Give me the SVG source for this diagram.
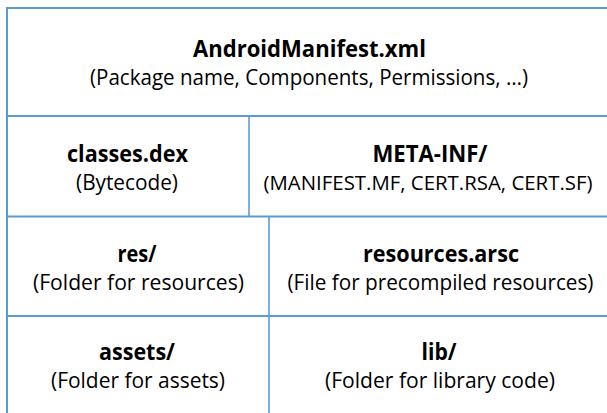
<svg xmlns="http://www.w3.org/2000/svg" width="607" height="413" viewBox="0 0 607 413">
  <style>
    .ln { stroke: #5b9bd5; stroke-width: 2; fill: none; }
    .lv { stroke: #5b9bd5; stroke-width: 1.6; fill: none; }
    text { font-family: "Open Sans", "Noto Sans", sans-serif; font-size: 22.5px; fill: #000; text-anchor: middle; }
    .t { font-weight: bold; font-size: 23px; }
    .n { font-size: 21.6px; }
    .m { font-size: 20.4px; }
  </style>
  <rect width="607" height="413" fill="#fff"/>
  <g id="grid">
    <line class="ln" x1="7" y1="8" x2="607" y2="8"/>
    <line class="ln" x1="7" y1="7" x2="7" y2="413"/>
    <line class="ln" x1="7" y1="116" x2="607" y2="116"/>
    <line class="ln" x1="7" y1="216.5" x2="607" y2="216.5"/>
    <line class="ln" x1="7" y1="316" x2="607" y2="316"/>
    <line class="lv" x1="249" y1="116" x2="249" y2="216.5"/>
    <line class="lv" x1="269" y1="216.5" x2="269" y2="413"/>
  </g>
  <g id="manifest">
    <text class="t" x="309.5" y="57" textLength="233" lengthAdjust="spacingAndGlyphs">AndroidManifest.xml</text>
    <text x="309" y="85" textLength="438" lengthAdjust="spacingAndGlyphs">(Package name, Components, Permissions, …)</text>
  </g>
  <g id="classes">
    <text class="t" x="127.5" y="162" textLength="121" lengthAdjust="spacingAndGlyphs">classes.dex</text>
    <text x="127" y="190" textLength="102" lengthAdjust="spacingAndGlyphs">(Bytecode)</text>
  </g>
  <g id="metainf">
    <text class="t" x="430" y="162" textLength="115" lengthAdjust="spacingAndGlyphs">META-INF/</text>
    <text class="m" x="428" y="190" textLength="329" lengthAdjust="spacingAndGlyphs">(MANIFEST.MF, CERT.RSA, CERT.SF)</text>
  </g>
  <g id="res">
    <text class="t" x="137" y="262" textLength="39" lengthAdjust="spacingAndGlyphs">res/</text>
    <text x="138.5" y="290" textLength="211" lengthAdjust="spacingAndGlyphs">(Folder for resources)</text>
  </g>
  <g id="resources">
    <text class="t" x="441" y="262" textLength="156" lengthAdjust="spacingAndGlyphs">resources.arsc</text>
    <text class="n" x="440.5" y="290" textLength="306" lengthAdjust="spacingAndGlyphs">(File for precompiled resources)</text>
  </g>
  <g id="assets">
    <text class="t" x="137" y="360" textLength="76" lengthAdjust="spacingAndGlyphs">assets/</text>
    <text x="138" y="388" textLength="174" lengthAdjust="spacingAndGlyphs">(Folder for assets)</text>
  </g>
  <g id="lib">
    <text class="t" x="439" y="360" textLength="35" lengthAdjust="spacingAndGlyphs">lib/</text>
    <text x="440" y="388" textLength="230" lengthAdjust="spacingAndGlyphs">(Folder for library code)</text>
  </g>
</svg>
